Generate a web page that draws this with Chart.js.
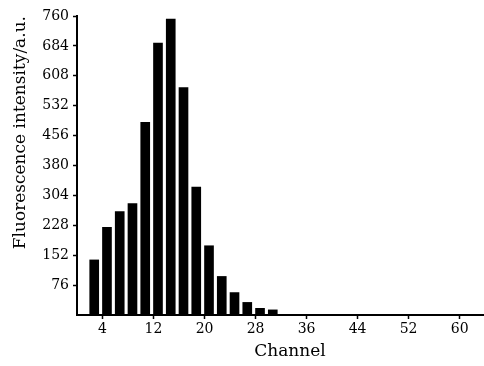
<!DOCTYPE html>
<html>
<head>
<meta charset="utf-8">
<script src="https://cdn.jsdelivr.net/npm/chart.js@4.4.1/dist/chart.umd.min.js"></script>
<style>
  html, body { margin: 0; padding: 0; background: #fff; overflow: hidden; }
  #wrap { width: 504px; height: 366px; }
</style>
</head>
<body>
<div id="wrap"><canvas id="chart"></canvas></div>
<script>
// values
const channels = [2.7, 4.7, 6.7, 8.7, 10.7, 12.7, 14.7, 16.7, 18.7, 20.7, 22.7, 24.7, 26.7, 28.7, 30.7];
const intensity = [140, 223, 263, 283, 490, 691, 752, 578, 325, 176, 98, 57, 32, 17, 13];
const xTicks = [4, 12, 20, 28, 36, 44, 52, 60];
const yTicks = [76, 152, 228, 304, 380, 456, 532, 608, 684, 760];

window.onload = function () {
  const ctx = document.getElementById("chart").getContext("2d");
  const font = { family: "'DejaVu Serif', serif", size: 14 };
  const titleFont = { family: "'DejaVu Serif', serif", size: 17 };

  new Chart(ctx, {
    type: "bar",
    data: {
      datasets: [
        {
          data: channels.map((c, i) => ({ x: c, y: intensity[i] })),
          backgroundColor: "#000",
          barThickness: 9,
        },
      ],
    },
    options: {
      responsive: true,
      maintainAspectRatio: false,
      animation: false,
      layout: { padding: { top: 16, right: 1, left: 10, bottom: 0 } },
      plugins: { legend: { display: false }, tooltip: { enabled: false } },
      scales: {
        x: {
          type: "linear",
          offset: false,
          min: 0,
          max: 66.8,
          afterBuildTicks: (s) => { s.ticks = xTicks.map((v) => ({ value: v })); },
          afterFit: (s) => { s.height = 51; },
          ticks: { color: "#000", font: font, padding: 2, maxRotation: 0 },
          grid: { offset: false, drawOnChartArea: false, tickLength: 4, color: "#000", tickWidth: 1.5 },
          border: { color: "#000", width: 2 },
          title: { display: true, text: "Channel", color: "#000", font: titleFont, padding: { top: 0 } },
        },
        y: {
          min: 0,
          max: 760,
          afterBuildTicks: (s) => { s.ticks = yTicks.map((v) => ({ value: v })); },
          afterFit: (s) => { s.width = 67; },
          ticks: { color: "#000", font: font, padding: 4 },
          grid: { drawOnChartArea: false, tickLength: 4, color: "#000", tickWidth: 1.5 },
          border: { color: "#000", width: 2 },
          title: { display: true, text: "Fluorescence intensity/a.u.", color: "#000", font: titleFont, align: "end", padding: 0 },
        },
      },
    },
  });
};
</script>
</body>
</html>
